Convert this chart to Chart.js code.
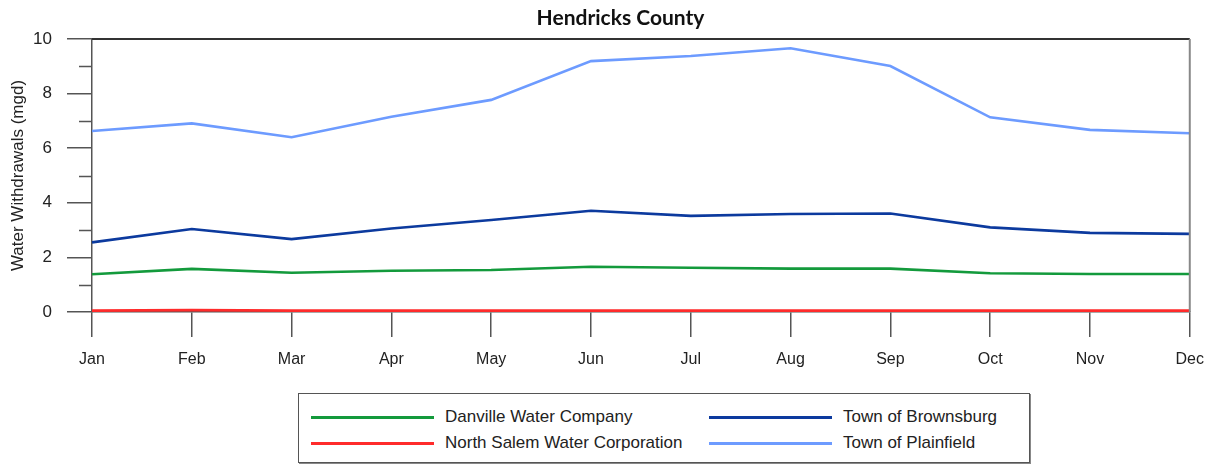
<!DOCTYPE html>
<html>
<head>
<meta charset="utf-8">
<script src="https://cdn.jsdelivr.net/npm/chart.js@4/dist/chart.umd.min.js"></script>
<style>
  html, body { margin: 0; padding: 0; background: #fff; }
  #wrap { position: relative; width: 1217px; height: 466px; overflow: hidden; }
  #title {
    position: absolute; left: 0; top: 4px; width: 1241px; text-align: center;
    font: 700 21px Lato, "Liberation Sans", sans-serif; color: #111;
  }
  #plot { position: absolute; left: 0; top: 0; width: 1217px; height: 380px; }
  #legend {
    position: absolute; left: 298px; top: 393px; width: 732px; height: 70px;
    border: 1px solid #555; box-shadow: 1px 1px 0 #888; box-sizing: border-box;
    display: grid; grid-auto-flow: column; grid-template-rows: 26px 26px;
    grid-template-columns: 398px 320px; padding: 10px 0 0 12px;
    font: 17px "Liberation Sans", Arial, sans-serif; color: #222;
  }
  .item { display: flex; align-items: center; white-space: nowrap; }
  .swatch { width: 123px; height: 3px; margin-right: 11px; }
</style>
</head>
<body>
<div id="wrap">
  <div id="plot"><canvas id="chart"></canvas></div>
  <div id="title">Hendricks County</div>
  <div id="legend"></div>
</div>
<script>
// Monthly water withdrawals (million gallons per day), Hendricks County
const months = ['Jan', 'Feb', 'Mar', 'Apr', 'May', 'Jun', 'Jul', 'Aug', 'Sep', 'Oct', 'Nov', 'Dec'];
const danville    = [1.38, 1.58, 1.44, 1.51, 1.54, 1.66, 1.62, 1.59, 1.59, 1.42, 1.39, 1.39];
const northSalem  = [0.05, 0.07, 0.05, 0.05, 0.05, 0.05, 0.05, 0.05, 0.05, 0.05, 0.05, 0.05];
const brownsburg  = [2.55, 3.04, 2.67, 3.06, 3.37, 3.71, 3.52, 3.59, 3.61, 3.10, 2.90, 2.86];
const plainfield  = [6.63, 6.91, 6.40, 7.15, 7.77, 9.19, 9.38, 9.66, 9.01, 7.13, 6.67, 6.55];
const yTicksMajor = [0, 2, 4, 6, 8, 10];
const yTicksMinor = [1, 3, 5, 7, 9];

const axisColor = '#555';
const tickFont = { family: '"Liberation Sans", Arial, sans-serif', size: 16 };

// Minor tick marks on the value axis plus the top and right frame lines
const framePlugin = {
  id: 'frame',
  afterDraw(chart) {
    const { ctx, chartArea: a, scales: { y } } = chart;
    ctx.save();
    ctx.strokeStyle = axisColor;
    ctx.lineWidth = 1.5;
    ctx.beginPath();
    for (const v of yTicksMinor) {
      const py = Math.round(y.getPixelForValue(v)) + 0.5;
      ctx.moveTo(a.left - 13, py);
      ctx.lineTo(a.left, py);
    }
    ctx.stroke();
    ctx.strokeStyle = '#333';
    ctx.lineWidth = 2;
    ctx.beginPath();
    ctx.moveTo(a.left, a.top);
    ctx.lineTo(a.right, a.top);
    ctx.stroke();
    ctx.strokeStyle = '#888';
    ctx.beginPath();
    ctx.moveTo(a.right, a.top);
    ctx.lineTo(a.right, a.bottom);
    ctx.stroke();
    ctx.restore();
  }
};

const series = [
  { label: 'Danville Water Company',         data: danville,   color: '#139a3c' },
  { label: 'North Salem Water Corporation',  data: northSalem, color: '#ff2b2b' },
  { label: 'Town of Brownsburg',             data: brownsburg, color: '#0c3a9e' },
  { label: 'Town of Plainfield',             data: plainfield, color: '#6d9bff' }
];

const chart = new Chart(document.getElementById('chart'), {
  type: 'line',
  data: {
    labels: months,
    datasets: series.map(s => ({
      label: s.label,
      data: s.data,
      borderColor: s.color,
      backgroundColor: s.color,
      borderWidth: 2.6,
      pointRadius: 0,
      tension: 0,
      fill: false
    }))
  },
  options: {
    responsive: true,
    maintainAspectRatio: false,
    animation: false,
    layout: { padding: { top: 39, left: 0, right: 27, bottom: 0 } },
    plugins: {
      legend: { display: false },
      title: { display: false },
      tooltip: { enabled: false }
    },
    scales: {
      x: {
        type: 'category',
        offset: false,
        afterFit(scale) { scale.height = 68; },
        grid: { drawOnChartArea: false, drawTicks: true, tickLength: 25, color: axisColor, lineWidth: 1.5 },
        border: { display: true, color: axisColor, width: 1.5 },
        ticks: { color: '#222', font: tickFont, padding: 13, maxRotation: 0, autoSkip: false }
      },
      y: {
        min: 0,
        max: 10,
        afterFit(scale) { scale.width = 92; },
        afterBuildTicks(scale) { scale.ticks = yTicksMajor.map(v => ({ value: v })); },
        grid: { drawOnChartArea: false, drawTicks: true, tickLength: 25, color: axisColor, lineWidth: 1.5 },
        border: { display: true, color: axisColor, width: 1.5 },
        ticks: { color: '#222', font: { family: tickFont.family, size: 17 }, padding: 15 },
        title: {
          display: true,
          text: 'Water Withdrawals (mgd)',
          color: '#222',
          font: { family: '"Liberation Sans", Arial, sans-serif', size: 17 },
          padding: { top: 8, bottom: 0 }
        }
      }
    }
  },
  plugins: [framePlugin]
});

// Legend laid out in two columns from the chart's own datasets
const legendEl = document.getElementById('legend');
chart.data.datasets.forEach(ds => {
  const item = document.createElement('div');
  item.className = 'item';
  const sw = document.createElement('span');
  sw.className = 'swatch';
  sw.style.background = ds.borderColor;
  const txt = document.createElement('span');
  txt.textContent = ds.label;
  item.appendChild(sw);
  item.appendChild(txt);
  legendEl.appendChild(item);
});
</script>
</body>
</html>
